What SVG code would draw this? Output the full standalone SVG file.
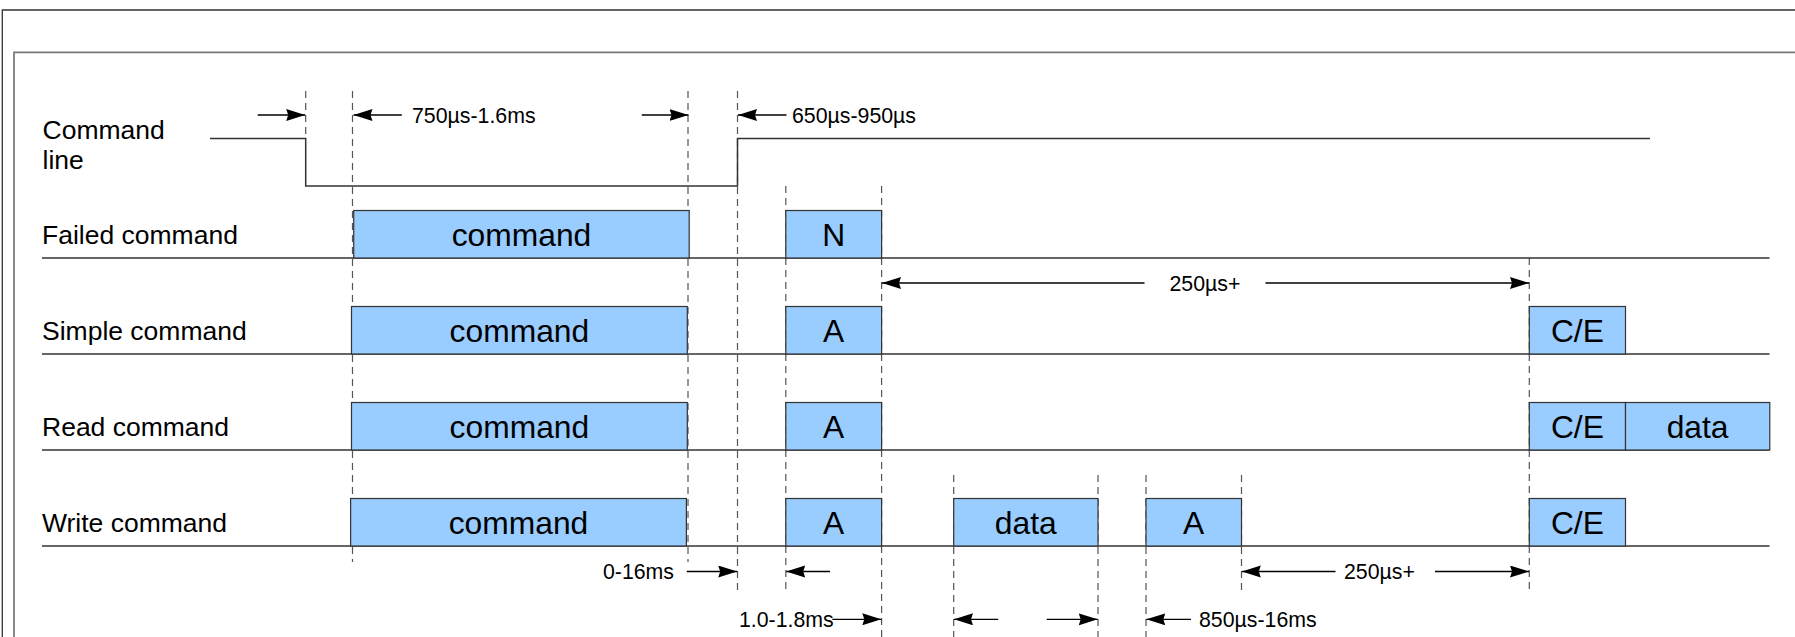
<svg xmlns="http://www.w3.org/2000/svg" width="1795" height="637" viewBox="0 0 1795 637">
<style>
.frame1{fill:none;stroke:#333;stroke-width:1.3}
.frame2{fill:none;stroke:#777;stroke-width:1.7}
.sig{fill:none;stroke:#333;stroke-width:1.5}
.row{fill:none;stroke:#333;stroke-width:1.5}
.dash{fill:none;stroke:#555;stroke-width:1.2;stroke-dasharray:7,5}
.box{fill:#99ccff;stroke:#333;stroke-width:1.2}
.arr{fill:none;stroke:#000;stroke-width:1.3;marker-end:url(#ah)}
.lbl{font-family:"Liberation Sans",Arial,sans-serif;font-size:26.5px;fill:#000}
.bt{font-family:"Liberation Sans",Arial,sans-serif;font-size:31.8px;fill:#000;text-anchor:middle}
.sm{font-family:"Liberation Sans",Arial,sans-serif;font-size:21.3px;fill:#000}
</style>
<defs>
<marker id="ah" markerUnits="userSpaceOnUse" markerWidth="20" markerHeight="14" refX="19" refY="6" orient="auto">
<path d="M0,0 L19,6 L0,12 L2,6 Z" fill="#000"/>
</marker>
</defs>
<rect width="1795" height="637" fill="#fff"/>
<g id="frames">
<path class="frame1" d="M2.3,640 V10 H1800"/>
<path class="frame2" d="M14,640 V52.3 H1800"/>
</g>
<g id="labels">
<text class="lbl" x="42.5" y="139">Command</text>
<text class="lbl" x="42.5" y="169">line</text>
<text class="lbl" x="42" y="244">Failed command</text>
<text class="lbl" x="42" y="340">Simple command</text>
<text class="lbl" x="42" y="436">Read command</text>
<text class="lbl" x="42" y="532">Write command</text>
</g>
<g id="guides">
<line class="dash" x1="305.7" y1="91" x2="305.7" y2="138"/>
<line class="dash" x1="352.5" y1="91" x2="352.5" y2="562"/>
<line class="dash" x1="688" y1="91" x2="688" y2="562"/>
<line class="dash" x1="737.5" y1="91" x2="737.5" y2="593"/>
<line class="dash" x1="785.8" y1="186" x2="785.8" y2="590"/>
<line class="dash" x1="881.6" y1="186" x2="881.6" y2="637"/>
<line class="dash" x1="1529.3" y1="258" x2="1529.3" y2="591"/>
<line class="dash" x1="953.7" y1="475" x2="953.7" y2="637"/>
<line class="dash" x1="1098" y1="475" x2="1098" y2="637"/>
<line class="dash" x1="1146" y1="475" x2="1146" y2="637"/>
<line class="dash" x1="1241.5" y1="475" x2="1241.5" y2="593"/>
</g>
<g id="command-line">
<path class="sig" d="M210,138.5 H305.7 V186 H737.5 V138.5 H1650"/>
</g>
<g id="rows">
<line class="row" x1="42" y1="258" x2="1769.5" y2="258"/>
<line class="row" x1="42" y1="354" x2="1769.5" y2="354"/>
<line class="row" x1="42" y1="450" x2="1769.5" y2="450"/>
<line class="row" x1="42" y1="546" x2="1769.5" y2="546"/>
</g>
<g id="failed-command">
<rect class="box" x="353.7" y="210.5" width="335.5" height="47.5"/>
<text class="bt" x="521.5" y="245.5">command</text>
<rect class="box" x="785.8" y="210.5" width="95.8" height="47.5"/>
<text class="bt" x="833.7" y="245.5">N</text>
</g>
<g id="simple-command">
<rect class="box" x="351.5" y="306.5" width="335.8" height="47.5"/>
<text class="bt" x="519.4" y="341.5">command</text>
<rect class="box" x="785.8" y="306.5" width="95.8" height="47.5"/>
<text class="bt" x="833.7" y="341.5">A</text>
<rect class="box" x="1529.3" y="306.5" width="96.2" height="47.5"/>
<text class="bt" x="1577.4" y="341.5">C/E</text>
</g>
<g id="read-command">
<rect class="box" x="351.5" y="402.5" width="335.8" height="47.5"/>
<text class="bt" x="519.4" y="437.5">command</text>
<rect class="box" x="785.8" y="402.5" width="95.8" height="47.5"/>
<text class="bt" x="833.7" y="437.5">A</text>
<rect class="box" x="1529.3" y="402.5" width="96.2" height="47.5"/>
<text class="bt" x="1577.4" y="437.5">C/E</text>
<rect class="box" x="1625.5" y="402.5" width="144.3" height="47.5"/>
<text class="bt" x="1697.6" y="437.5">data</text>
</g>
<g id="write-command">
<rect class="box" x="350.6" y="498.5" width="335.8" height="47.5"/>
<text class="bt" x="518.5" y="533.5">command</text>
<rect class="box" x="785.8" y="498.5" width="95.8" height="47.5"/>
<text class="bt" x="833.7" y="533.5">A</text>
<rect class="box" x="953.7" y="498.5" width="144.3" height="47.5"/>
<text class="bt" x="1025.8" y="533.5">data</text>
<rect class="box" x="1146" y="498.5" width="95.5" height="47.5"/>
<text class="bt" x="1193.7" y="533.5">A</text>
<rect class="box" x="1529.3" y="498.5" width="96.2" height="47.5"/>
<text class="bt" x="1577.4" y="533.5">C/E</text>
</g>
<g id="connectors">
<line class="arr" x1="257.7" y1="115" x2="305.2" y2="115"/>
<line class="arr" x1="401.8" y1="115" x2="353.5" y2="115"/>
<line class="arr" x1="641.8" y1="115" x2="688.5" y2="115"/>
<line class="arr" x1="786.5" y1="115" x2="738" y2="115"/>
<line class="arr" x1="1144.5" y1="283" x2="882" y2="283"/>
<line class="arr" x1="1265.5" y1="283" x2="1529" y2="283"/>
<line class="arr" x1="686.7" y1="571.5" x2="737.2" y2="571.5"/>
<line class="arr" x1="830" y1="571.5" x2="786.2" y2="571.5"/>
<line class="arr" x1="832.3" y1="619.3" x2="881.3" y2="619.3"/>
<line class="arr" x1="1335.5" y1="571.5" x2="1241.8" y2="571.5"/>
<line class="arr" x1="1435" y1="571.5" x2="1529" y2="571.5"/>
<line class="arr" x1="998.2" y1="619.3" x2="954" y2="619.3"/>
<line class="arr" x1="1046.7" y1="619.3" x2="1097.7" y2="619.3"/>
<line class="arr" x1="1191" y1="619.3" x2="1146.3" y2="619.3"/>
</g>
<g id="timing-labels">
<text class="sm" x="412" y="122.5">750µs-1.6ms</text>
<text class="sm" x="792" y="122.5">650µs-950µs</text>
<text class="sm" x="1169.5" y="290.5">250µs+</text>
<text class="sm" x="603" y="579">0-16ms</text>
<text class="sm" x="739" y="627">1.0-1.8ms</text>
<text class="sm" x="1344" y="579">250µs+</text>
<text class="sm" x="1199" y="627">850µs-16ms</text>
</g>
</svg>
